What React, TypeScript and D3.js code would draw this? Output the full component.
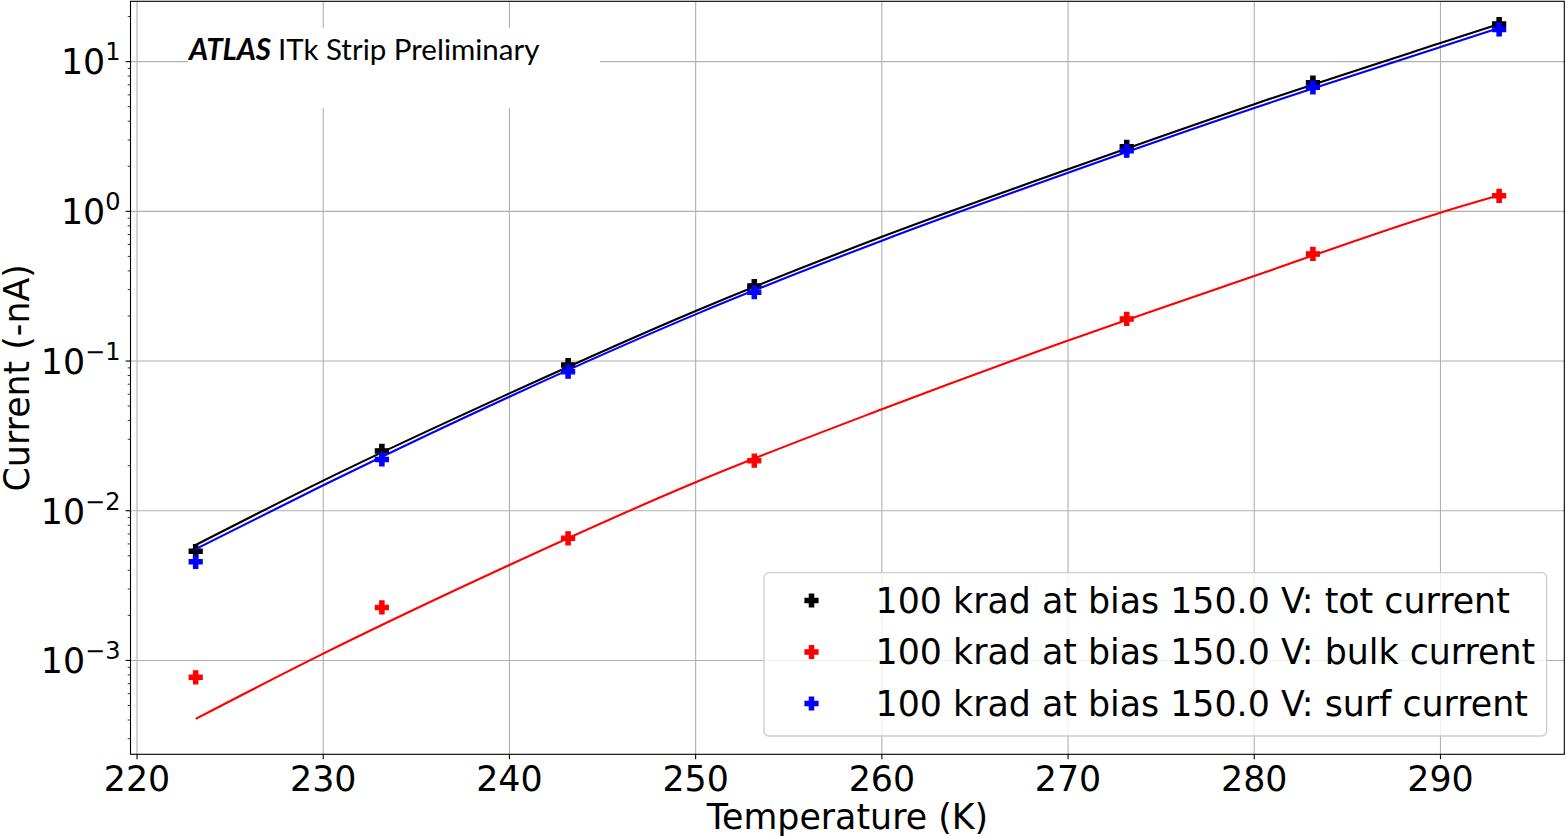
import * as d3 from "d3";

// Measured temperatures (K) and currents (-nA)
const temps = [223.15, 233.15, 243.15, 253.15, 273.15, 283.15, 293.15];
const totCurrent = [5.37e-3, 0.0251, 0.094, 0.317, 2.7, 7.23, 17.8];
const bulkCurrent = [7.71e-4, 2.26e-3, 6.54e-3, 0.0216, 0.191, 0.519, 1.27];
const surfCurrent = [4.56e-3, 0.022, 0.0849, 0.288, 2.54, 6.74, 16.4];

// Fit curves
const fitTemps = [223.15, 230, 240, 250, 260, 270, 280, 290, 293.15];
const totFit = [5.9e-3, 0.0159, 0.0608, 0.216, 0.676, 1.91, 5.2, 13.3, 17.8];
const bulkFit = [4.07e-4, 1.11e-3, 4.34e-3, 0.0155, 0.0476, 0.137, 0.37, 0.98, 1.28];
const surfFit = [5.55e-3, 0.0148, 0.0578, 0.205, 0.637, 1.81, 4.9, 12.5, 16.8];

const xTicks = [220, 230, 240, 250, 260, 270, 280, 290];
const yExponents = [-3, -2, -1, 0, 1];

const series = [
  { label: "100 krad at bias 150.0 V: tot current", color: "#000000", values: totCurrent, fit: totFit },
  { label: "100 krad at bias 150.0 V: bulk current", color: "#ff0000", values: bulkCurrent, fit: bulkFit },
  { label: "100 krad at bias 150.0 V: surf current", color: "#0000ff", values: surfCurrent, fit: surfFit },
];

const W = 1566;
const H = 837;
const plot = { left: 130.5, right: 1564.3, top: 1.3, bottom: 754.3 };
const FONT = "DejaVu Sans";
const FS = 34.8;

function plusPath(s: number) {
  const a = s / 2;
  const b = s / 6;
  return `M${-b},${-a}H${b}V${-b}H${a}V${b}H${b}V${a}H${-b}V${b}H${-a}V${-b}H${-b}Z`;
}

export default function App() {
  const x = d3.scaleLinear().domain([219.65, 296.65]).range([plot.left, plot.right]);
  const y = d3.scaleLog().domain([10 ** -3.627, 10 ** 1.403]).range([plot.bottom, plot.top]);

  const line = d3
    .line<[number, number]>()
    .x((d) => x(d[0]))
    .y((d) => y(d[1]))
    .curve(d3.curveMonotoneX);

  // minor ticks 2..9 per decade
  const minor: number[] = [];
  for (let e = -4; e <= 1; e++) {
    for (let m = 2; m <= 9; m++) {
      const v = m * 10 ** e;
      if (y(v) >= plot.top && y(v) <= plot.bottom) minor.push(v);
    }
  }

  const marker = plusPath(13);
  const legendRows = [600.5, 652, 703.5];

  return (
    <svg
      width={W}
      height={H}
      style={{ position: "absolute", left: 0, top: 0, background: "#fff" }}
      fontFamily={FONT}
    >
      <rect x={0} y={0} width={W} height={H} fill="#fff" />

      {/* grid */}
      <g stroke="#b0b0b0" strokeWidth={1.1}>
        {xTicks.map((t) => (
          <line key={t} x1={x(t)} x2={x(t)} y1={plot.top} y2={plot.bottom} />
        ))}
        {yExponents.map((e) => (
          <line key={e} x1={plot.left} x2={plot.right} y1={y(10 ** e)} y2={y(10 ** e)} />
        ))}
      </g>

      {/* white patch behind the ATLAS label */}
      <rect x={188} y={28} width={412} height={80} fill="#fff" />
      <text x={189} y={59.5} fontFamily="Lato, 'Open Sans', sans-serif" fontSize={29.5} fill="#000">
        <tspan fontWeight="bold" fontStyle="italic">ATLAS</tspan>
        <tspan dx={7}>ITk Strip Preliminary</tspan>
      </text>

      {/* data */}
      {series.map((s) => (
        <g key={s.label}>
          {temps.map((t, i) => (
            <path
              key={t}
              d={marker}
              transform={`translate(${x(t)},${y(s.values[i])})`}
              fill={s.color}
              stroke={s.color}
              strokeWidth={1.2}
            />
          ))}
          <path
            d={line(fitTemps.map((t, i) => [t, s.fit[i]] as [number, number])) ?? ""}
            fill="none"
            stroke={s.color}
            strokeWidth={2.1}
          />
        </g>
      ))}

      {/* spines */}
      <rect
        x={plot.left}
        y={plot.top}
        width={plot.right - plot.left}
        height={plot.bottom - plot.top}
        fill="none"
        stroke="#000"
        strokeWidth={1.1}
      />

      {/* x axis */}
      <g>
        {xTicks.map((t) => (
          <g key={t}>
            <line x1={x(t)} x2={x(t)} y1={plot.bottom} y2={plot.bottom + 4.9} stroke="#000" strokeWidth={1.1} />
            <text x={x(t)} y={790.7} textAnchor="middle" fontSize={FS} fill="#000">
              {t}
            </text>
          </g>
        ))}
        <text x={(plot.left + plot.right) / 2} y={828.8} textAnchor="middle" fontSize={FS} fill="#000">
          Temperature (K)
        </text>
      </g>

      {/* y axis */}
      <g>
        {minor.map((v) => (
          <line key={v} x1={plot.left - 2.8} x2={plot.left} y1={y(v)} y2={y(v)} stroke="#000" strokeWidth={0.8} />
        ))}
        {yExponents.map((e) => (
          <g key={e}>
            <line x1={plot.left - 4.9} x2={plot.left} y1={y(10 ** e)} y2={y(10 ** e)} stroke="#000" strokeWidth={1.1} />
            <text x={120.5} y={y(10 ** e) + 12.8} textAnchor="end" fontSize={FS} fill="#000">
              <tspan>10</tspan>
              <tspan dy={-14} fontSize={24}>
                {e < 0 ? `\u2212${-e}` : `${e}`}
              </tspan>
            </text>
          </g>
        ))}
        <text
          transform={`translate(29,${(plot.top + plot.bottom) / 2}) rotate(-90)`}
          textAnchor="middle"
          fontSize={FS}
          fill="#000"
        >
          Current (-nA)
        </text>
      </g>

      {/* legend */}
      <g>
        <rect
          x={764}
          y={572.7}
          width={782.6}
          height={163.3}
          rx={5}
          fill="#fff"
          fillOpacity={0.8}
          stroke="#cccccc"
          strokeWidth={1.3}
        />
        {series.map((s, i) => (
          <g key={s.label}>
            <path
              d={marker}
              transform={`translate(811.5,${legendRows[i]})`}
              fill={s.color}
              stroke={s.color}
              strokeWidth={1.2}
            />
            <text x={875.5} y={legendRows[i] + 12} fontSize={FS} fill="#000">
              {s.label}
            </text>
          </g>
        ))}
      </g>
    </svg>
  );
}
